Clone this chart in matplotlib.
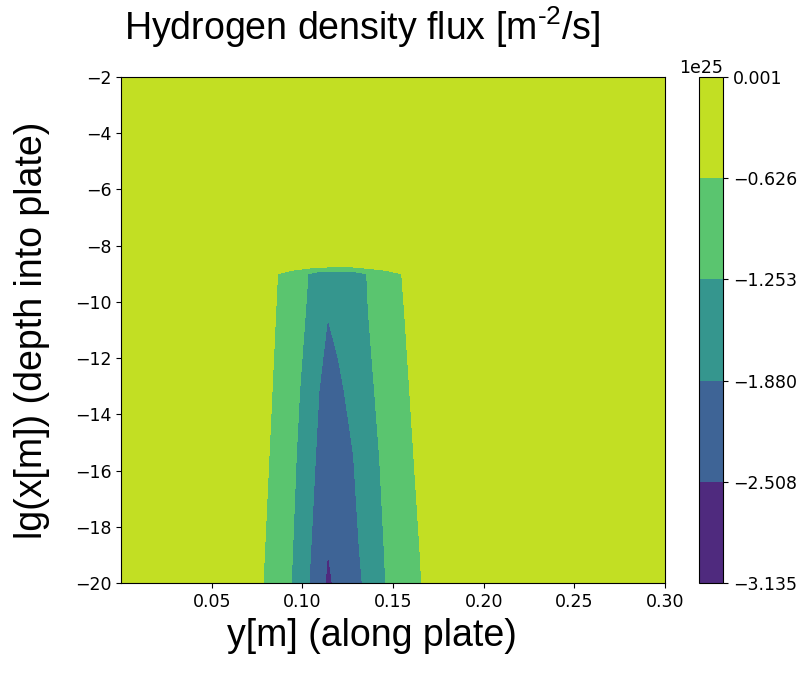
import numpy as np
import matplotlib.pyplot as plt
from matplotlib.colors import ListedColormap

plt.rcParams['mathtext.fontset'] = 'custom'
plt.rcParams['mathtext.rm'] = 'Liberation Sans'
plt.rcParams['mathtext.default'] = 'regular'

# grid columns: position along plate y [m]
y_pos = [0.0, 0.060, 0.078, 0.086, 0.094, 0.103, 0.1085, 0.114,
         0.120, 0.128, 0.136, 0.146, 0.155, 0.166, 0.180, 0.30]
# grid rows: lg of depth into plate
lg_depth = [-2.0, -8.6, -9.0, -10.5, -13.15, -15.5, -18.8, -20.0]
# hydrogen flux, units of 1e25 m^-2/s (rows follow lg_depth)
flux = [
    [0, 0, 0, 0, 0, 0, 0, 0, 0, 0, 0, 0, 0, 0, 0, 0],
    [0, 0, 0, 0, 0, 0, 0, 0, 0, 0, 0, 0, 0, 0, 0, 0],
    [0, 0, -0.317, -0.615, -0.913, -1.249, -1.525, -1.600, -1.600, -1.600, -1.231, -0.913, -0.620, -0.276, 0, 0],
    [0, 0, -0.356, -0.656, -0.956, -1.310, -1.595, -1.875, -1.714, -1.493, -1.272, -0.958, -0.674, -0.326, 0, 0],
    [0, 0, -0.424, -0.729, -1.035, -1.471, -1.834, -2.200, -1.994, -1.696, -1.382, -1.042, -0.758, -0.412, 0, 0],
    [0, 0, -0.486, -0.797, -1.109, -1.599, -1.964, -2.350, -2.154, -1.893, -1.519, -1.114, -0.831, -0.484, -0.044, 0],
    [0, 0, -0.578, -0.896, -1.214, -1.770, -2.136, -2.505, -2.299, -2.024, -1.689, -1.212, -0.932, -0.589, -0.153, 0],
    [0, 0, -0.614, -0.933, -1.260, -1.835, -2.216, -2.600, -2.380, -2.086, -1.758, -1.250, -0.969, -0.620, -0.190, 0],
]
levels = [-3.135, -2.508, -1.880, -1.253, -0.626, 0.001]
x_ticks = [0.05, 0.10, 0.15, 0.20, 0.25, 0.30]
y_ticks = [-20, -18, -16, -14, -12, -10, -8, -6, -4, -2]

# viridis bands, as they look in the picture (slightly lighter)
band_colors = ["#4f2a7e", "#3e6496", "#35968e", "#5ac56f", "#c2df23"]

fig = plt.figure(figsize=(8.11, 6.77), dpi=100)
ax = fig.add_axes([0.1492, 0.1388, 0.6708, 0.7474])
cax = fig.add_axes([0.8619, 0.1388, 0.0296, 0.7474])

z = np.array(flux) * 1e25
cs = ax.contourf(y_pos, lg_depth, z, levels=np.array(levels) * 1e25,
                 cmap=ListedColormap(band_colors))
cb = fig.colorbar(cs, cax=cax)

ax.set_xlim(0, 0.30); ax.set_ylim(-20, -2)
ax.set_xticks(x_ticks); ax.set_yticks(y_ticks)
ax.tick_params(labelsize=12.5)
cb.ax.tick_params(labelsize=12.5)
cb.ax.yaxis.get_offset_text().set_fontsize(12.5)

fnt = "Liberation Sans"
fig.text(0.447, 1 - 27 / 677, r"Hydrogen density flux [m$^{\text{-}2}$/s]",
         ha="center", va="center", fontsize=27, family=fnt)
fig.text(372 / 811, 1 - 636 / 677, "y[m] (along plate)",
         ha="center", va="center", fontsize=27, family=fnt)
fig.text(32 / 811, 1 - 330 / 677, "lg(x[m]) (depth into plate)",
         ha="center", va="center", rotation=90, fontsize=27, family=fnt)

fig.savefig("out.png", dpi=100)
